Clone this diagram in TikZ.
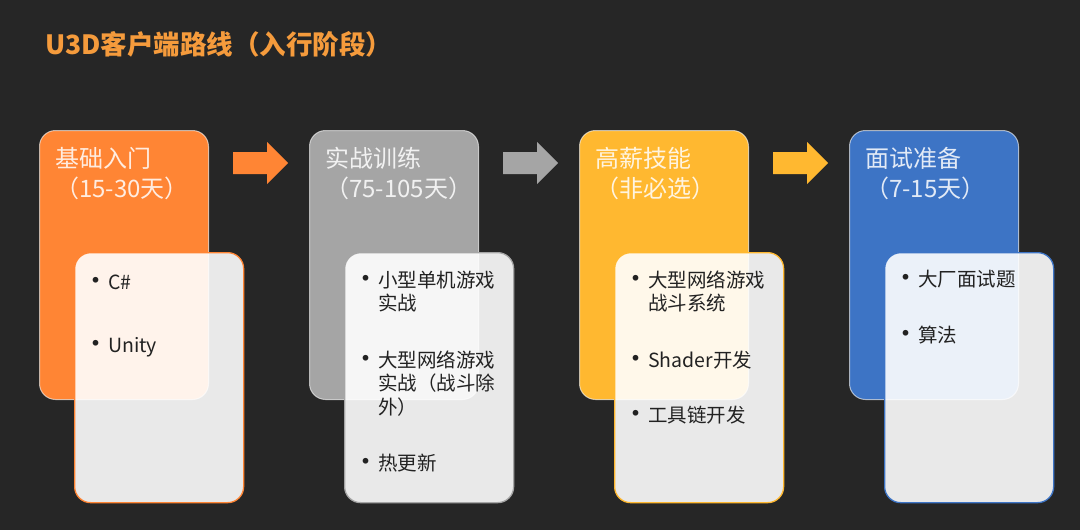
\documentclass[tikz,border=0pt]{standalone}
\usepackage{fontspec}
\setmainfont{Noto Sans CJK SC}
\definecolor{bgdark}{HTML}{262626}
\definecolor{corange}{HTML}{FF8534}
\definecolor{cgray}{HTML}{A5A5A5}
\definecolor{cyellow}{HTML}{FFB830}
\definecolor{cblue}{HTML}{3D74C5}
\definecolor{ctitle}{HTML}{F59B3C}
\definecolor{ctext}{HTML}{222222}
\newcommand{\bul}{\llap{\makebox[0pt]{\raisebox{-1pt}{\fontsize{27}{27}\selectfont •}}\hspace{12pt}}}
\tikzset{
  backbox/.style={rounded corners=16pt, draw=white, draw opacity=0.6, line width=1pt,
    minimum width=169pt, minimum height=269pt, anchor=north west, inner sep=0},
  frontbox/.style={rounded corners=16pt, fill=white, fill opacity=0.9, line width=1.3pt,
    minimum width=169pt, minimum height=250pt, anchor=north west, inner sep=0},
  hdr/.style={anchor=base west, text=white, text opacity=0.85, align=left, inner sep=0,
    font=\fontsize{24}{30}\selectfont},
  item/.style={anchor=base west, inner sep=0, text width=150pt, text=ctext,
    font=\fontsize{19.5}{23.5}\selectfont},
  blockarrow/.style={fill=#1}
}
\begin{document}
\begin{tikzpicture}[x=1pt,y=-1pt]
\fill[bgdark] (0,0) rectangle (1080,530);
\useasboundingbox (0,0) rectangle (1080,530);

\node[anchor=base west, inner sep=0, text=ctitle, font=\bfseries\fontsize{26.5}{30}\selectfont] (title) at (45,54) {U3D客户端路线（入行阶段）};

% back boxes
\node[backbox, fill=corange] (b1) at (39,130) {};
\node[backbox, fill=cgray]   (b2) at (309,130) {};
\node[backbox, fill=cyellow] (b3) at (579,130) {};
\node[backbox, fill=cblue]   (b4) at (849,130) {};

% headers
\node[hdr] (h1) at (55,197) {基础入门\\（15-30天）};
\node[hdr] (h2) at (325,197) {实战训练\\（75-105天）};
\node[hdr] (h3) at (595,197) {高薪技能\\（非必选）};
\node[hdr] (h4) at (865,197) {面试准备\\（7-15天）};

% front boxes
\node[frontbox, draw=corange] (f1) at (74,252) {};
\node[frontbox, draw=cgray]   (f2) at (344,252) {};
\node[frontbox, draw=cyellow] (f3) at (614,252) {};
\node[frontbox, draw=cblue]   (f4) at (884,252) {};

% block arrows
\foreach \x/\c in {233/corange, 503/cgray, 773/cyellow}{
  \fill[blockarrow=\c] (\x,152) -- (\x+34,152) -- (\x+34,142) -- (\x+55,163)
    -- (\x+34,184) -- (\x+34,174) -- (\x,174) -- cycle;
}

% items
\node[item] (i11) at (108,289) {\bul C\#};
\node[item] (i12) at (108,352) {\bul Unity};

\node[item] (i21) at (378,287) {\bul 小型单机游戏\\实战};
\node[item] (i22) at (378,367) {\bul 大型网络游戏\\实战（战斗除\\外）};
\node[item] (i23) at (378,470) {\bul 热更新};

\node[item] (i31) at (648,287) {\bul 大型网络游戏\\战斗系统};
\node[item] (i32) at (648,367) {\bul Shader开发};
\node[item] (i33) at (648,422) {\bul 工具链开发};

\node[item] (i41) at (918,286) {\bul 大厂面试题};
\node[item] (i42) at (918,342) {\bul 算法};
\end{tikzpicture}
\end{document}
